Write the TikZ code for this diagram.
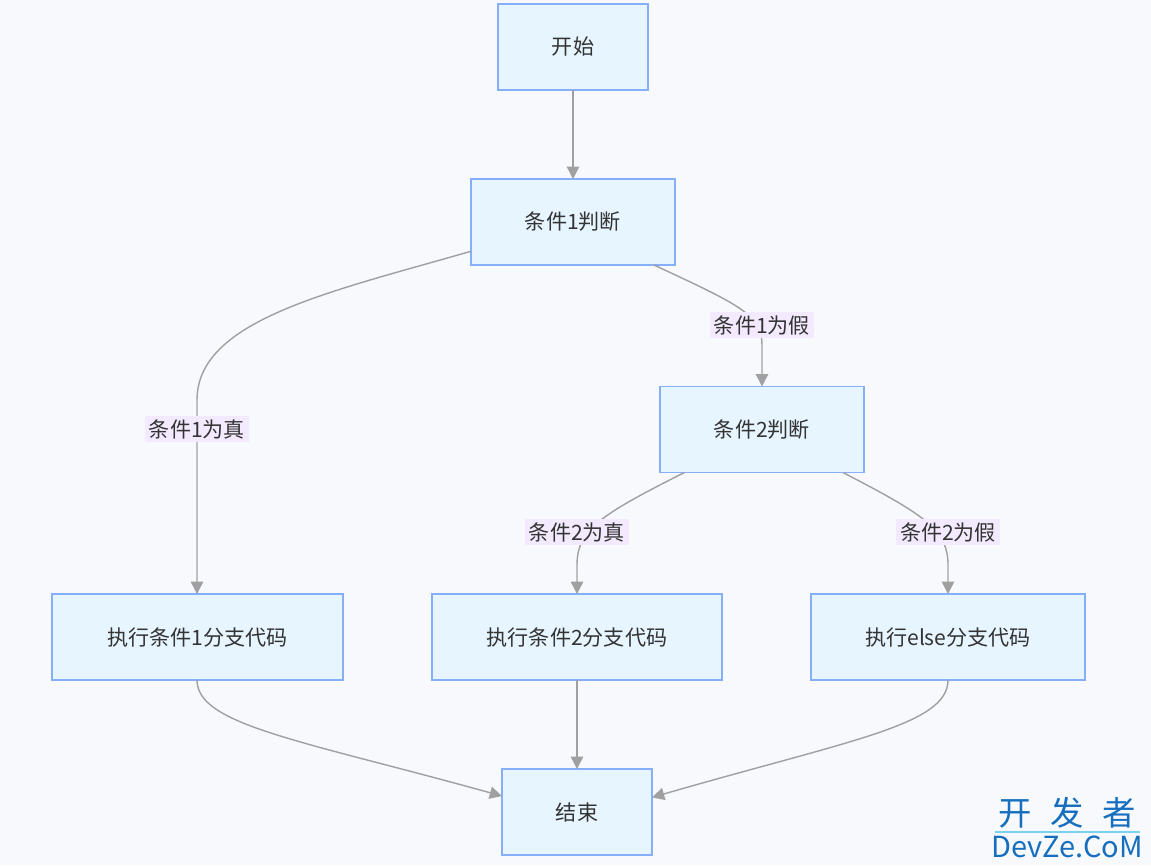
\documentclass[tikz,border=0pt]{standalone}
\usepackage{fontspec}
\newfontfamily\cjk{Noto Sans CJK SC}
\usetikzlibrary{arrows.meta}

\definecolor{bgcol}{RGB}{248,249,252}
\definecolor{boxfill}{RGB}{230,245,255}
\definecolor{boxline}{RGB}{133,175,248}
\definecolor{edgecol}{RGB}{160,160,160}
\definecolor{lblfill}{RGB}{244,234,255}
\definecolor{textcol}{RGB}{51,51,51}
\definecolor{wmblue}{RGB}{22,110,190}
\definecolor{wmline}{RGB}{120,210,240}

\begin{document}
\begin{tikzpicture}[x=0.02cm,y=-0.02cm,
    box/.style={draw=boxline, fill=boxfill, line width=1pt, minimum height=1.72cm,
      inner sep=0pt, outer sep=0pt, text=textcol, font=\cjk\fontsize{12}{14}\selectfont},
    flow/.style={draw=edgecol, line width=0.8pt, -{Triangle[length=7pt,width=7pt]}},
    lbl/.style={fill=lblfill, text=textcol, inner sep=2pt, font=\cjk\fontsize{12}{14}\selectfont}]

  \fill[bgcol] (0,0) rectangle (1151,865);
  \useasboundingbox (0,0) rectangle (1151,865);

  % nodes
  \node[box, minimum width=3cm]    (start) at (573,47)    {开始};
  \node[box, minimum width=4.08cm] (c1)    at (573,222)   {条件1判断};
  \node[box, minimum width=4.08cm] (c2)    at (762,429.5) {条件2判断};
  \node[box, minimum width=5.82cm] (a1)    at (197.5,637) {执行条件1分支代码};
  \node[box, minimum width=5.8cm]  (a2)    at (577,637)   {执行条件2分支代码};
  \node[box, minimum width=5.48cm] (a3)    at (948,637)   {执行else分支代码};
  \node[box, minimum width=3cm]    (end)   at (577,812)   {结束};

  % edges
  \draw[flow] (start) -- (c1);
  \draw[flow] (c1.196) .. controls (330,292) and (197,320) .. (197,400) -- (a1.north -| 197,0);
  \draw[flow] (c1.-28.6) .. controls (740,305) and (762,315) .. (762,345) -- (c2);
  \draw[flow] (c2.-151.1) .. controls (600,515) and (577,530) .. (577,565) -- (a2);
  \draw[flow] (c2.-28.6) .. controls (925,515) and (948,530) .. (948,565) -- (a3);
  \draw[flow] (a1.south -| 197,0) .. controls (197,725) and (300,740) .. (end.168.7);
  \draw[flow] (a2) -- (end);
  \draw[flow] (a3.south -| 948,0) .. controls (948,725) and (850,740) .. (end.11.3);

  % edge labels
  \node[lbl] (t1) at (197,429) {条件1为真};
  \node[lbl] (f1) at (762,325) {条件1为假};
  \node[lbl] (t2) at (577,532) {条件2为真};
  \node[lbl] (f2) at (948,532) {条件2为假};

  % watermark
  \node[text=wmblue, inner sep=0pt, font=\cjk\fontsize{19}{19}\selectfont] (wm1) at (1067,813) {开\hspace{0.55em}发\hspace{0.55em}者};
  \node[text=wmblue, inner sep=0pt, font=\cjk\fontsize{16.5}{17}\selectfont] (wm2) at (1067,847) {DevZe.CoM};
  \draw[wmline, line width=0.6pt] (995,832) -- (1140,832);
\end{tikzpicture}
\end{document}
